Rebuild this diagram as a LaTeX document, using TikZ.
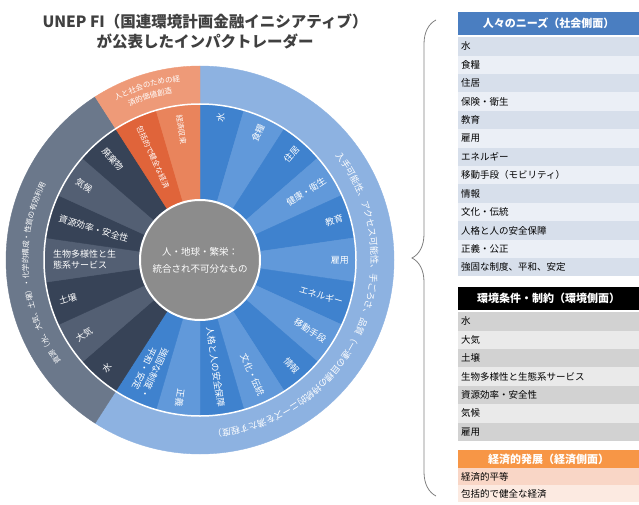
\documentclass[tikz,border=0pt]{standalone}
\usepackage{fontspec}
\setmainfont{Noto Sans CJK JP}
\usetikzlibrary{matrix,decorations.text,decorations.pathreplacing}
\definecolor{socA}{HTML}{3F82CE}
\definecolor{socB}{HTML}{6199DA}
\definecolor{socRing}{HTML}{8DB2E1}
\definecolor{envA}{HTML}{374357}
\definecolor{envB}{HTML}{535F73}
\definecolor{envRing}{HTML}{6B788B}
\definecolor{ecoA}{HTML}{E0643A}
\definecolor{ecoB}{HTML}{E9845C}
\definecolor{ecoRing}{HTML}{EE9A78}
\definecolor{hubgray}{HTML}{8C8C8C}
\definecolor{titlegray}{HTML}{404040}
\definecolor{socHead}{HTML}{4A7EC1}
\definecolor{socDark}{HTML}{D7DFEB}
\definecolor{socLight}{HTML}{EBEFF6}
\definecolor{envDark}{HTML}{D2D2D2}
\definecolor{envLight}{HTML}{EAEAEA}
\definecolor{ecoHead}{HTML}{F79646}
\definecolor{ecoDark}{HTML}{F9D6C6}
\definecolor{ecoLight}{HTML}{FCEAE1}

\begin{document}
\begin{tikzpicture}[x=1pt,y=1pt,
  seglabel/.style={text=white,font=\fontsize{9}{11}\selectfont,inner sep=1pt,align=center},
  tabcell/.style={font=\fontsize{9.5}{11}\selectfont,text width=175,inner xsep=3,inner ysep=0,minimum height=18.4,outer sep=0,align=left},
  tabhead/.style={text=white,font=\bfseries\fontsize{11}{13}\selectfont,minimum height=23,align=center}]
\useasboundingbox (0,0) rectangle (639,504);
\coordinate (c) at (200,244);

\node[font=\bfseries\fontsize{15.5}{20}\selectfont,text=titlegray,align=center] (title) at (205,472.3)
  {UNEP FI（国連環境計画金融イニシアティブ）\\が公表したインパクトレーダー};

\fill[socRing,draw=socRing,line width=0.4] (c) -- ([shift={(90:194)}]c) arc[start angle=90,end angle=-122.727,radius=194] -- cycle;
\fill[envRing,draw=envRing,line width=0.4] (c) -- ([shift={(-122.727:194)}]c) arc[start angle=-122.727,end angle=-237.273,radius=194] -- cycle;
\fill[ecoRing,draw=ecoRing,line width=0.4] (c) -- ([shift={(122.727:194)}]c) arc[start angle=122.727,end angle=90,radius=194] -- cycle;

\foreach \i/\col in {0/socA,1/socB,2/socA,3/socB,4/socA,5/socB,6/socA,7/socB,8/socA,9/socB,10/socA,11/socB,12/socA,
  13/envA,14/envB,15/envA,16/envB,17/envA,18/envB,19/envA,20/ecoA,21/ecoB}
  \fill[\col,draw=\col,line width=0.4] (c) -- ([shift={({90-\i*360/22}:156)}]c)
    arc[start angle={90-\i*360/22},delta angle={-360/22},radius=156] -- cycle;
\draw[white,line width=1.5] (c) circle[radius=156];

\foreach \i/\t in {0/水,1/食糧,2/住居,3/健康・衛生,4/教育,5/雇用,6/エネルギー,7/移動手段,8/情報,9/文化・伝統,
  10/人格と人の安全保障,11/正義,12/{強固な制度・\\平和・安定}}
  \path (c) ++({90-(\i+0.5)*360/22}:150) node[seglabel,anchor=east,rotate={90-(\i+0.5)*360/22}] (s\i) {\t};
\foreach \i/\t in {13/水,14/大気,15/土壌,16/{生物多様性と生\\態系サービス},17/資源効率・安全性,18/気候,19/廃棄物}
  \path (c) ++({90-(\i+0.5)*360/22}:148) node[seglabel,anchor=west,align=left,rotate={-90-(\i+0.5)*360/22}] (s\i) {\t};
\foreach \i/\t in {20/包括的で健全な経済,21/経済収束}
  \path (c) ++({90-(\i+0.5)*360/22}:148) node[seglabel,anchor=west,font=\fontsize{7.5}{9}\selectfont,rotate={-90-(\i+0.5)*360/22}] (s\i) {\t};

\path[decorate,decoration={text along path,text align=center,
  text={|\fontsize{9}{9}\selectfont\color{white}|入手可能性、アクセス可能性、手ごろさ、品質（一連の目標の持続的ニーズを満たす程度）}}]
  ([shift={(56:171)}]c) arc[start angle=56,end angle=-104,radius=171];
\path[decorate,decoration={text along path,text align=center,
  text={|\fontsize{7.5}{9}\selectfont\color{white}|資源（水、大気、土壌）・化学的構成・性質の有効利用}}]
  ([shift={(224:172)}]c) arc[start angle=224,end angle=146,radius=172];
\path[decorate,decoration={text along path,text align=center,
  text={|\fontsize{7.5}{9}\selectfont\color{white}|人と社会のための経}}]
  ([shift={(128:180)}]c) arc[start angle=128,end angle=86,radius=180];
\path[decorate,decoration={text along path,text align=center,
  text={|\fontsize{7.5}{9}\selectfont\color{white}|済的価値創造}}]
  ([shift={(128:169)}]c) arc[start angle=128,end angle=86,radius=169];

\node[circle,fill=hubgray,draw=white,line width=2,minimum size=120,inner sep=0,text=white,align=center,
  font=\fontsize{9.5}{17}\selectfont] (hub) at (c) {人・地球・繁栄：\\統合され不可分なもの};

\coordinate (br1) at (436,8);
\coordinate (br2) at (436,484);
\draw[gray,line width=0.8,decorate,decoration={brace,amplitude=24pt}] (br1) -- (br2);

\matrix[matrix of nodes,name=soc,anchor=north west,inner sep=0,row sep=0,nodes={tabcell},
  every even row/.style={nodes={fill=socDark}},every odd row/.style={nodes={fill=socLight}}] at (458,492) {
  |[tabhead,fill=socHead]| 人々のニーズ（社会側面）\\[2pt]
  水\\ 食糧\\ 住居\\ 保険・衛生\\ 教育\\ 雇用\\ エネルギー\\ 移動手段（モビリティ）\\ 情報\\ 文化・伝統\\
  人格と人の安全保障\\ 正義・公正\\ 強固な制度、平和、安定\\ };
\matrix[matrix of nodes,name=env,anchor=north west,inner sep=0,row sep=0,nodes={tabcell},
  every even row/.style={nodes={fill=envDark}},every odd row/.style={nodes={fill=envLight}}] at (458,217) {
  |[tabhead,fill=black]| 環境条件・制約（環境側面）\\[2pt]
  水\\ 大気\\ 土壌\\ 生物多様性と生態系サービス\\ 資源効率・安全性\\ 気候\\ 雇用\\ };
\matrix[matrix of nodes,name=eco,anchor=north west,inner sep=0,row sep=0,nodes={tabcell,minimum height=17},
  every even row/.style={nodes={fill=ecoDark}},every odd row/.style={nodes={fill=ecoLight}}] at (458,54) {
  |[tabhead,fill=ecoHead,minimum height=18]| 経済的発展（経済側面）\\
  経済的平等\\ 包括的で健全な経済\\ };
\end{tikzpicture}
\end{document}
